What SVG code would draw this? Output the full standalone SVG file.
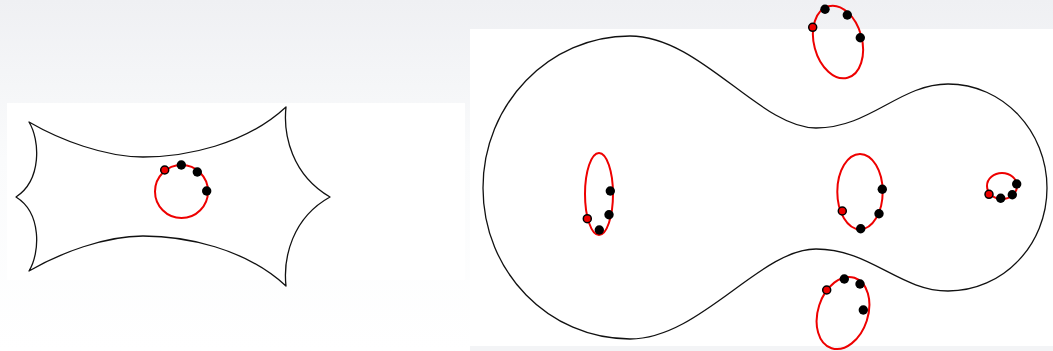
<svg xmlns="http://www.w3.org/2000/svg" width="1053" height="351" viewBox="0 0 1053 351">
  <defs>
    <linearGradient id="bg" x1="0" y1="0" x2="0" y2="1">
      <stop offset="0" stop-color="#eff0f3"/>
      <stop offset="0.45" stop-color="#fafbfc"/>
      <stop offset="1" stop-color="#ffffff"/>
    </linearGradient>
  </defs>
  <style>
    .outline { fill: none; stroke: #111; stroke-width: 1.3; stroke-linejoin: round; }
    .loop { fill: none; stroke: #ee0000; stroke-width: 2; }
    .dot { fill: #000; }
    .start { fill: #ee0000; stroke: #000; stroke-width: 1.5; }
  </style>
  <rect x="0" y="0" width="1053" height="351" fill="url(#bg)"/>
  <rect x="7" y="103" width="458" height="177" fill="#ffffff"/>
  <rect x="470" y="29" width="583" height="317" fill="#ffffff"/>
  <rect x="470" y="346" width="583" height="5" fill="#f3f4f6"/>

  <g id="left-panel">
    <path class="outline" d="M 29,122 C 60,140 105,157 143,157 C 185,157 245,145 286,107 C 283,135 292,175 330,197 C 292,218 283,258 286,286 C 245,248 185,236 143,236 C 105,236 60,253 29,271 C 40,253 42,213 16,197 C 42,180 40,140 29,122 Z"/>
    <g id="left-loop">
      <circle class="loop" cx="181.5" cy="191.5" r="26.5"/>
      <circle class="start" cx="164.7" cy="170" r="4"/>
      <circle class="dot" cx="181.3" cy="165" r="4.7"/>
      <circle class="dot" cx="197.3" cy="172" r="4.7"/>
      <circle class="dot" cx="206.7" cy="191" r="4.7"/>
    </g>
  </g>

  <g id="right-panel">
    <path class="outline" d="M 483,188 C 483,104 549,36 630,36 C 700,36 760,128 816,128 C 870,128 900,84 948,84 C 1003,84 1047,131 1047,188 C 1047,245 1003,291 948,291 C 900,291 870,249 816,249 C 760,249 700,339 630,339 C 549,339 483,272 483,188 Z"/>
    <g id="loop-left">
      <ellipse class="loop" cx="599" cy="194" rx="14" ry="41"/>
      <circle class="dot" cx="610.3" cy="191" r="4.7"/>
      <circle class="dot" cx="609" cy="214.7" r="4.7"/>
      <circle class="start" cx="587.3" cy="218.7" r="4"/>
      <circle class="dot" cx="599.3" cy="230" r="4.7"/>
    </g>
    <g id="loop-top">
      <ellipse class="loop" cx="838" cy="42" rx="24" ry="37" transform="rotate(-15 838 42)"/>
      <circle class="start" cx="812.7" cy="27.3" r="4"/>
      <circle class="dot" cx="825" cy="9.3" r="4.7"/>
      <circle class="dot" cx="847.3" cy="15" r="4.7"/>
      <circle class="dot" cx="860.3" cy="37.7" r="4.7"/>
    </g>
    <g id="loop-center">
      <ellipse class="loop" cx="860" cy="191.7" rx="22.7" ry="37.7"/>
      <circle class="dot" cx="882.3" cy="189.3" r="4.7"/>
      <circle class="dot" cx="879" cy="213.7" r="4.7"/>
      <circle class="start" cx="842.3" cy="211" r="4"/>
      <circle class="dot" cx="860.7" cy="228.7" r="4.7"/>
    </g>
    <g id="loop-right">
      <ellipse class="loop" cx="1002" cy="186" rx="15" ry="13"/>
      <circle class="start" cx="989" cy="194.3" r="4"/>
      <circle class="dot" cx="1000.7" cy="198.3" r="4.7"/>
      <circle class="dot" cx="1012.3" cy="194.7" r="4.7"/>
      <circle class="dot" cx="1016.7" cy="184" r="4.7"/>
    </g>
    <g id="loop-bottom">
      <ellipse class="loop" cx="843" cy="313" rx="25" ry="37" transform="rotate(18 843 313)"/>
      <circle class="start" cx="826.7" cy="290" r="4"/>
      <circle class="dot" cx="844.3" cy="279" r="4.7"/>
      <circle class="dot" cx="860" cy="284" r="4.7"/>
      <circle class="dot" cx="863.3" cy="310" r="4.7"/>
    </g>
  </g>
</svg>
